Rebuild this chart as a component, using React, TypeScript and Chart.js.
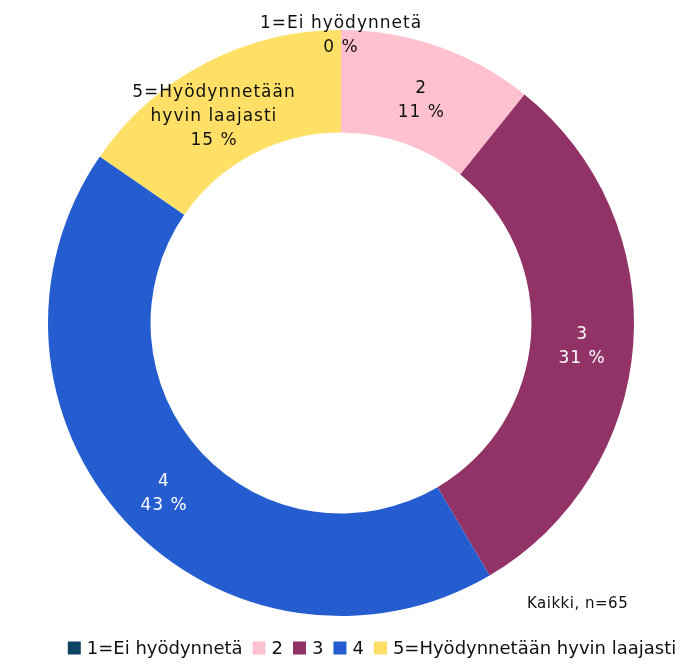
import React, { useEffect, useRef } from "react";
import { Chart, registerables } from "chart.js";

Chart.register(...registerables);

const categories = ["1=Ei hyödynnetä", "2", "3", "4", "5=Hyödynnetään hyvin laajasti"];
const labelLines = [["1=Ei hyödynnetä"], ["2"], ["3"], ["4"], ["5=Hyödynnetään", "hyvin laajasti"]];
const counts = [0, 7, 20, 28, 10];
const colors = ["#0D4165", "#FFC0CF", "#923367", "#255DD1", "#FFE066"];
const labelTextColors = ["#111", "#111", "#fff", "#fff", "#111"];
const caption = "Kaikki, n=65";

const FONT = "'DejaVu Sans', sans-serif";

const labelPlugin = {
  id: "segLabels",
  afterDatasetsDraw(chart: any) {
    const ctx = chart.ctx;
    const meta = chart.getDatasetMeta(0);
    const total = counts.reduce((a, b) => a + b, 0);
    ctx.save();
    ctx.letterSpacing = "1px";
    ctx.font = `17px ${FONT}`;
    ctx.textAlign = "center";
    ctx.textBaseline = "middle";
    const lh = 24;
    meta.data.forEach((arc: any, i: number) => {
      const p = arc.getProps(["x", "y", "startAngle", "endAngle", "innerRadius", "outerRadius"], true);
      const pct = Math.round((counts[i] / total) * 100) + " %";
      const lines = [...labelLines[i], pct];
      let mid = (p.startAngle + p.endAngle) / 2;
      const r = (p.innerRadius + p.outerRadius) / 2;
      let cx: number, cy: number;
      if (counts[i] === 0) {
        cx = p.x;
        cy = p.y - p.outerRadius + 6;
        ctx.fillStyle = "#111";
      } else {
        if (i === 4) mid -= 0.07;
        cx = p.x + Math.cos(mid) * r;
        cy = p.y + Math.sin(mid) * r + (i === 4 ? -1 : 6);
        ctx.fillStyle = labelTextColors[i];
      }
      const startY = cy - ((lines.length - 1) * lh) / 2;
      lines.forEach((t, k) => ctx.fillText(t, cx, startY + k * lh));
    });

    // caption
    ctx.font = `15px ${FONT}`;
    ctx.letterSpacing = "0.5px";
    ctx.fillStyle = "#111";
    ctx.textAlign = "left";
    ctx.fillText(caption, 527, 604);

    // legend
    ctx.letterSpacing = "0px";
    ctx.font = `18px ${FONT}`;
    const box = 13;
    const gapText = 6;
    const gapItem = 10;
    const widths = categories.map((c) => ctx.measureText(c).width);
    const totalW = widths.reduce((a, w) => a + box + gapText + w, 0) + gapItem * (categories.length - 1);
    let x = 372 - totalW / 2;
    const yc = 648;
    categories.forEach((c, i) => {
      ctx.fillStyle = colors[i];
      ctx.fillRect(x, yc - box / 2, box, box);
      x += box + gapText;
      ctx.fillStyle = "#111";
      ctx.fillText(c, x, yc + 1);
      x += widths[i] + gapItem;
    });
    ctx.restore();
  },
};

export default function App() {
  const ref = useRef<HTMLCanvasElement>(null);
  useEffect(() => {
    const chart = new Chart(ref.current!, {
      type: "doughnut",
      data: {
        labels: categories,
        datasets: [
          {
            data: counts,
            backgroundColor: colors,
            borderWidth: 0,
          },
        ],
      },
      options: {
        animation: false,
        responsive: false,
        cutout: "65%",
        layout: { padding: { top: 30, bottom: 49, left: 0, right: 13 } },
        plugins: {
          legend: { display: false },
          tooltip: { enabled: false },
        },
      },
      plugins: [labelPlugin],
    });
    return () => chart.destroy();
  }, []);
  return (
    <div style={{ position: "fixed", left: 0, top: 0, width: 695, height: 665, background: "#fff" }}>
      <canvas ref={ref} width={695} height={665} />
    </div>
  );
}
